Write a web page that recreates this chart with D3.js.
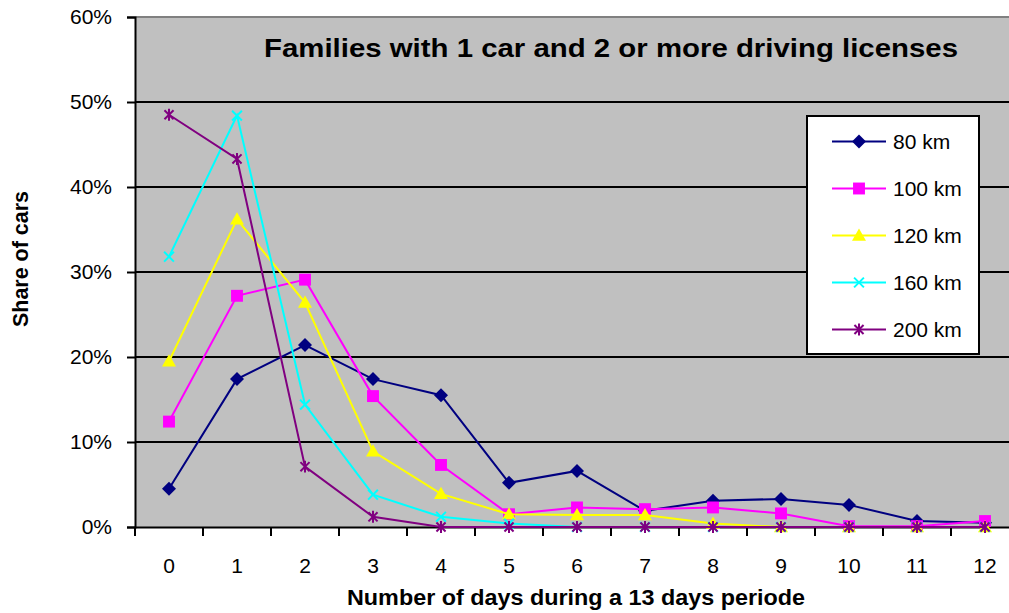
<!DOCTYPE html>
<html><head><meta charset="utf-8">
<script src="https://cdn.jsdelivr.net/npm/d3@7"></script>
<style>body{margin:0;background:#fff}svg{display:block}text{font-family:"Liberation Sans",Arial,sans-serif}</style>
</head><body><svg id="c" width="1009" height="613"></svg>
<script>
const categories = [0,1,2,3,4,5,6,7,8,9,10,11,12];
const seriesNames = ["80 km","100 km","120 km","160 km","200 km"];
const km80  = [4.5,17.4,21.4,17.4,15.5,5.2,6.6,1.9,3.1,3.3,2.6,0.7,0.5];
const km100 = [12.4,27.2,29.1,15.4,7.3,1.5,2.3,2.1,2.3,1.6,0.1,0.1,0.7];
const km120 = [19.5,36.2,26.4,8.9,3.9,1.5,1.4,1.4,0.4,0,0,0,0];
const km160 = [31.8,48.4,14.4,3.8,1.2,0.4,0,0,0,0,0,0,0];
const km200 = [48.5,43.3,7.1,1.2,0,0,0,0,0,0,0,0,0];
const yTicks = [0,10,20,30,40,50,60];
const colors = ["#000080","#FF00FF","#FFFF00","#00FFFF","#800080"];
const markers = ["diamond","square","triangle","x","asterisk"];
const allSeries = [km80,km100,km120,km160,km200];

const svg = d3.select("#c");
const FF = '"Liberation Sans", Arial, sans-serif';
const L=135, R=1019, T=17, B=527;
const x = d3.scaleBand().domain(categories).range([L,R]);
const y = d3.scaleLinear().domain([0,60]).range([B,T]);

svg.append("rect").attr("x",L).attr("y",T).attr("width",R-L).attr("height",B-T).attr("fill","#C0C0C0");
svg.append("line").attr("x1",L).attr("x2",R).attr("y1",T).attr("y2",T).attr("stroke","#808080").attr("stroke-width",2);
svg.append("g").selectAll("line").data(yTicks.filter(d=>d>0&&d<60)).join("line")
  .attr("x1",L).attr("x2",R).attr("y1",d=>y(d)).attr("y2",d=>y(d)).attr("stroke","#000").attr("stroke-width",2);

const yAxis = svg.append("g").attr("transform",`translate(${L},0)`)
  .call(d3.axisLeft(y).tickValues(yTicks).tickFormat(d=>d+"%").tickSize(8).tickPadding(15));
const xAxis = svg.append("g").attr("transform",`translate(0,${B})`)
  .call(d3.axisBottom(x).tickSize(0).tickPadding(31));
[yAxis,xAxis].forEach(g=>{g.select(".domain").attr("stroke","#000").attr("stroke-width",2);
  g.selectAll("text").attr("font-size",21).attr("fill","#000").attr("font-family",FF);
  g.selectAll("line").attr("stroke","#000").attr("stroke-width",2);});
svg.append("g").selectAll("line").data(categories.concat([13])).join("line")
  .attr("x1",d=>d<13?x(d):R).attr("x2",d=>d<13?x(d):R).attr("y1",B).attr("y2",B+9).attr("stroke","#000").attr("stroke-width",2);

function drawMarker(g, type, color, s){
  if(type==="diamond"){g.append("path").attr("d",`M0,${-s}L${s},0L0,${s}L${-s},0Z`).attr("fill",color);}
  else if(type==="square"){g.append("rect").attr("x",-s*0.85).attr("y",-s*0.85).attr("width",s*1.7).attr("height",s*1.7).attr("fill",color);}
  else if(type==="triangle"){g.append("path").attr("d",`M0,${-s}L${s},${s*0.75}L${-s},${s*0.75}Z`).attr("fill",color);}
  else if(type==="x"){const a=s*0.7;g.append("path").attr("d",`M${-a},${-a}L${a},${a}M${-a},${a}L${a},${-a}`).attr("stroke",color).attr("stroke-width",2);}
  else if(type==="asterisk"){const a=s*0.65;g.append("path").attr("d",`M${-a},${-a}L${a},${a}M${-a},${a}L${a},${-a}M0,${-s*0.85}L0,${s*0.85}`).attr("stroke",color).attr("stroke-width",2);}
}

const line = d3.line().x((d,i)=>x(categories[i])+x.bandwidth()/2).y(d=>y(d));
allSeries.forEach((vals,si)=>{
  const g = svg.append("g");
  g.append("path").attr("d",line(vals)).attr("fill","none").attr("stroke",colors[si]).attr("stroke-width",2);
  vals.forEach((v,i)=>{
    const mg = g.append("g").attr("transform",`translate(${x(categories[i])+x.bandwidth()/2},${y(v)})`);
    drawMarker(mg, markers[si], colors[si], 7);
  });
});

svg.append("text").attr("x",611).attr("y",57).attr("text-anchor","middle").attr("font-size",26).attr("font-weight","bold")
  .attr("font-family",FF).attr("textLength",694).attr("lengthAdjust","spacingAndGlyphs").text("Families with 1 car and 2 or more driving licenses");

const lg = svg.append("g");
lg.append("rect").attr("x",807).attr("y",116).attr("width",172).attr("height",238).attr("fill","#fff").attr("stroke","#000").attr("stroke-width",2);
seriesNames.forEach((n,i)=>{
  const yy = 141.5 + i*47;
  lg.append("line").attr("x1",832).attr("x2",886).attr("y1",yy).attr("y2",yy).attr("stroke",colors[i]).attr("stroke-width",2);
  const mg = lg.append("g").attr("transform",`translate(859,${yy})`);
  drawMarker(mg, markers[i], colors[i], 7);
  lg.append("text").attr("x",893).attr("y",yy+7.5).attr("font-size",21).attr("font-family",FF).text(n);
});

svg.append("text").attr("x",576).attr("y",605).attr("text-anchor","middle").attr("font-size",22).attr("font-weight","bold")
  .attr("font-family",FF).attr("textLength",458).attr("lengthAdjust","spacingAndGlyphs").text("Number of days during a 13 days periode");
svg.append("text").attr("transform","translate(28,259) rotate(-90)").attr("text-anchor","middle").attr("font-size",22).attr("font-weight","bold")
  .attr("font-family",FF).attr("textLength",136).attr("lengthAdjust","spacingAndGlyphs").text("Share of cars");
</script></body></html>
